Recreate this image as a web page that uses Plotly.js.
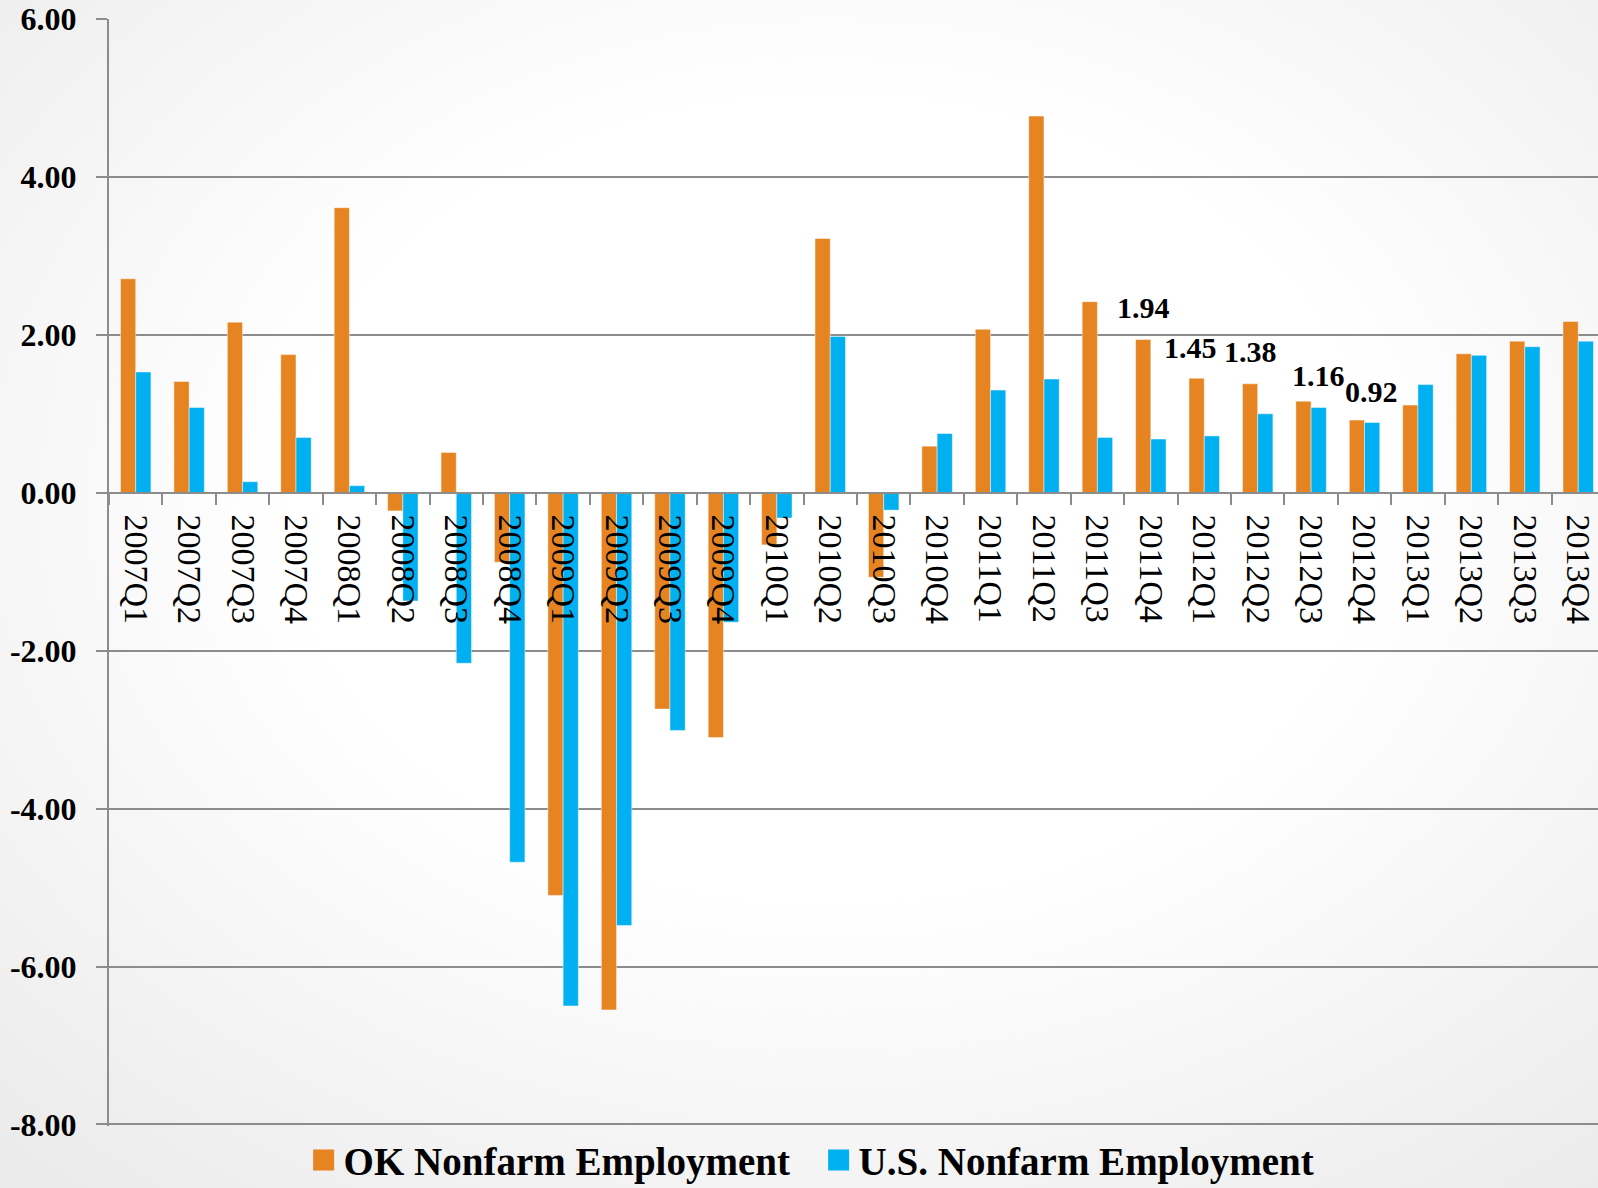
<!DOCTYPE html>
<html>
<head>
<meta charset="utf-8">
<script src="https://cdn.plot.ly/plotly-3.0.1.min.js"></script>
<style>
  html, body { margin: 0; padding: 0; }
  body {
    width: 1598px; height: 1188px; overflow: hidden;
    background: radial-gradient(ellipse 75% 75% at 52% 42%, #ffffff 45%, #ebebeb 100%);
  }
  #chart { width: 1598px; height: 1188px; }
</style>
</head>
<body>
<div id="chart"></div>
<script>
// ---- data ----
const categories = ['2007Q1','2007Q2','2007Q3','2007Q4','2008Q1','2008Q2','2008Q3','2008Q4',
  '2009Q1','2009Q2','2009Q3','2009Q4','2010Q1','2010Q2','2010Q3','2010Q4',
  '2011Q1','2011Q2','2011Q3','2011Q4','2012Q1','2012Q2','2012Q3','2012Q4',
  '2013Q1','2013Q2','2013Q3','2013Q4'];
const okValues = [2.71, 1.41, 2.16, 1.75, 3.61, -0.23, 0.51, -0.88,
  -5.10, -6.55, -2.74, -3.10, -0.66, 3.22, -1.07, 0.59,
  2.07, 4.77, 2.42, 1.94, 1.45, 1.38, 1.16, 0.92,
  1.11, 1.76, 1.92, 2.17];
const usValues = [1.53, 1.08, 0.14, 0.70, 0.09, -1.37, -2.16, -4.68,
  -6.50, -5.48, -3.01, -1.64, -0.32, 1.98, -0.22, 0.75,
  1.30, 1.44, 0.70, 0.68, 0.72, 1.00, 1.08, 0.89,
  1.37, 1.74, 1.85, 1.92];
const seriesNames = ['OK Nonfarm Employment', 'U.S. Nonfarm Employment'];
const labeledQuarters = ['2011Q4', '2012Q1', '2012Q2', '2012Q3', '2012Q4'];
const yTickValues = [-8, -6, -4, -2, 0, 2, 4, 6];

// ---- styling ----
const okColor = '#E68422';
const usColor = '#00B0F0';
const gridColor = '#8c8c8c';
const serif = '"Liberation Serif", "Times New Roman", serif';
// label placement nudges (px) for the data labels, in the order of labeledQuarters
const labelDx = [0, -6, 0, 15, 15];
const labelDy = [32, 31, 32, 26, 29];

const traces = [
  {
    type: 'bar', x: categories, y: okValues, name: seriesNames[0], showlegend: false,
    marker: { color: okColor, line: { color: 'rgba(255,255,255,0.45)', width: 1 } },
    hoverinfo: 'x+y'
  },
  {
    type: 'bar', x: categories, y: usValues, name: seriesNames[1], showlegend: false,
    marker: { color: usColor, line: { color: 'rgba(255,255,255,0.45)', width: 1 } },
    hoverinfo: 'x+y'
  },
  {
    type: 'scatter', mode: 'markers', x: [null], y: [null], name: seriesNames[0],
    marker: { symbol: 'square', size: 16, color: okColor, line: { color: okColor, width: 5 } },
    hoverinfo: 'skip'
  },
  {
    type: 'scatter', mode: 'markers', x: [null], y: [null], name: seriesNames[1],
    marker: { symbol: 'square', size: 16, color: usColor, line: { color: usColor, width: 5 } },
    hoverinfo: 'skip'
  }
];

const barGap = 0.43;
const groupW = 1 - barGap;
const catWidth = 53.42;
const annotations = labeledQuarters.map((q, k) => {
  const i = categories.indexOf(q);
  return {
    x: q, y: okValues[i], xref: 'x', yref: 'y',
    text: okValues[i].toFixed(2),
    showarrow: false,
    xanchor: 'center', yanchor: 'middle',
    xshift: -catWidth * groupW / 4 + labelDx[k],
    yshift: labelDy[k],
    font: { family: serif, size: 30, color: '#000', weight: 'bold' }
  };
});

const layout = {
  width: 1598, height: 1188,
  margin: { l: 109, r: 0, t: 19, b: 62, pad: 0 },
  paper_bgcolor: 'rgba(0,0,0,0)',
  plot_bgcolor: 'rgba(0,0,0,0)',
  barmode: 'group',
  bargap: barGap,
  bargroupgap: 0,
  showlegend: true,
  font: { family: serif, color: '#000' },
  xaxis: {
    type: 'category',
    range: [-0.5, 27.37],
    anchor: 'free',
    position: 8.02 / 14.02,
    showline: true, linecolor: gridColor, linewidth: 2,
    showgrid: false, zeroline: false,
    ticks: 'outside', tickson: 'boundaries', ticklen: 11, tickwidth: 2, tickcolor: gridColor,
    tickmode: 'linear', tick0: 0, dtick: 1,
    tickangle: 90,
    ticklabelstandoff: 14,
    tickfont: { family: serif, size: 34, color: '#000' },
    automargin: false,
    fixedrange: true
  },
  yaxis: {
    range: [-8.02, 6],
    tickmode: 'array', tickvals: yTickValues,
    ticktext: yTickValues.map(v => v.toFixed(2)),
    showgrid: true, gridcolor: gridColor, gridwidth: 2,
    zeroline: false,
    showline: true, linecolor: gridColor, linewidth: 2,
    ticks: 'outside', ticklen: 11, tickwidth: 2, tickcolor: gridColor,
    ticklabelstandoff: 13,
    tickfont: { family: serif, size: 32, color: '#000', weight: 'bold' },
    automargin: false,
    fixedrange: true
  },
  legend: {
    orientation: 'h',
    xref: 'container', yref: 'container',
    x: 0.19, xanchor: 'left',
    y: 0.0235, yanchor: 'middle',
    entrywidth: 470,
    bgcolor: 'rgba(0,0,0,0)',
    font: { family: serif, size: 39, color: '#000', weight: 'bold' },
    itemclick: false, itemdoubleclick: false
  },
  annotations: annotations
};

Plotly.newPlot('chart', traces, layout, { displayModeBar: false, staticPlot: true });
</script>
</body>
</html>
